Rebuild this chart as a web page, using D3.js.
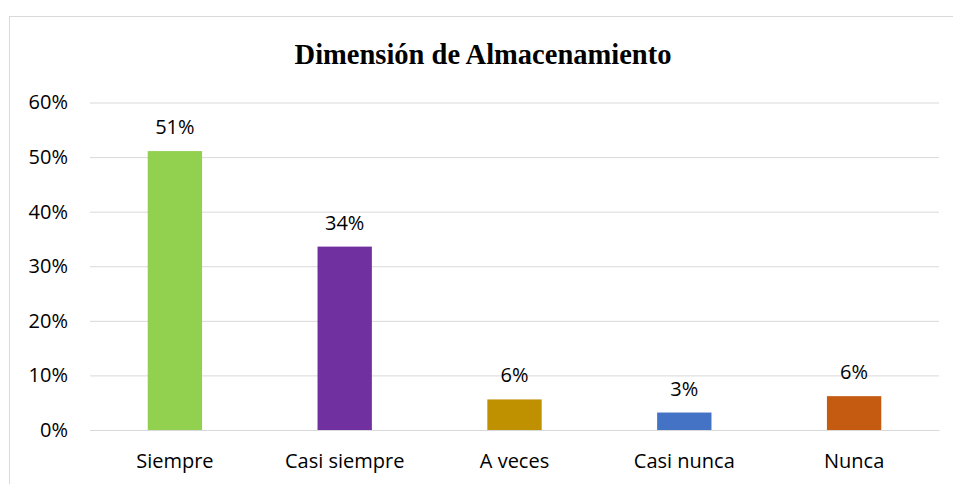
<!DOCTYPE html>
<html><head><meta charset="utf-8">
<script src="https://cdn.jsdelivr.net/npm/d3@7"></script>
<style>html,body{margin:0;padding:0;background:#fff;}svg{display:block;}</style>
</head><body>
<svg id="chart" width="953" height="484"></svg>
<script>
const title = "Dimensión de Almacenamiento";
const categories = ["Siempre", "Casi siempre", "A veces", "Casi nunca", "Nunca"];
const values = [0.511, 0.336, 0.056, 0.032, 0.062];
const colors = ["#92d050", "#7030a0", "#bf9000", "#4472c4", "#c55a11"];
const yTicks = [0, 0.1, 0.2, 0.3, 0.4, 0.5, 0.6];

const svg = d3.select("#chart");
const sans = "Open Sans, Lato, sans-serif";

svg.append("rect").attr("x", 9.5).attr("y", 16.5).attr("width", 960).attr("height", 500)
  .attr("fill", "#fff").attr("stroke", "#d9d9d9").attr("stroke-width", 1);

const x = d3.scaleBand().domain(categories).range([90, 939]).paddingInner(0.68).paddingOuter(0.34);
const y = d3.scaleLinear().domain([0, 0.6]).range([430, 102.5]);

svg.append("text").attr("x", 483).attr("y", 64).attr("text-anchor", "middle")
  .attr("font-family", "Liberation Serif, Times New Roman, serif").attr("font-weight", "bold")
  .attr("font-size", 28.5).attr("fill", "#000").text(title);

const yAxis = d3.axisLeft(y).tickValues(yTicks).tickFormat(d3.format(".0%")).tickSize(-(939 - 90)).tickPadding(22);
const gy = svg.append("g").attr("transform", "translate(90,0)").call(yAxis);
gy.select(".domain").remove();
gy.selectAll(".tick line").attr("stroke", "#d9d9d9").attr("stroke-width", 1);
gy.selectAll(".tick text").attr("font-family", sans).attr("font-size", 20).attr("fill", "#000");

svg.append("g").selectAll("rect").data(values).join("rect")
  .attr("x", (d, i) => x(categories[i]))
  .attr("width", x.bandwidth())
  .attr("y", d => y(d))
  .attr("height", d => y(0) - y(d))
  .attr("fill", (d, i) => colors[i]);

svg.append("g").selectAll("text").data(values).join("text")
  .attr("x", (d, i) => x(categories[i]) + x.bandwidth() / 2)
  .attr("y", d => y(d) - 17)
  .attr("text-anchor", "middle")
  .attr("font-family", sans).attr("font-size", 20).attr("fill", "#000")
  .text(d => d3.format(".0%")(d));

const xAxis = d3.axisBottom(x).tickSize(0).tickPadding(24);
const gx = svg.append("g").attr("transform", "translate(0,430)").call(xAxis);
gx.select(".domain").attr("stroke", "#d9d9d9");
gx.selectAll(".tick text").attr("font-family", sans).attr("font-size", 20).attr("fill", "#000");
</script>
</body></html>
